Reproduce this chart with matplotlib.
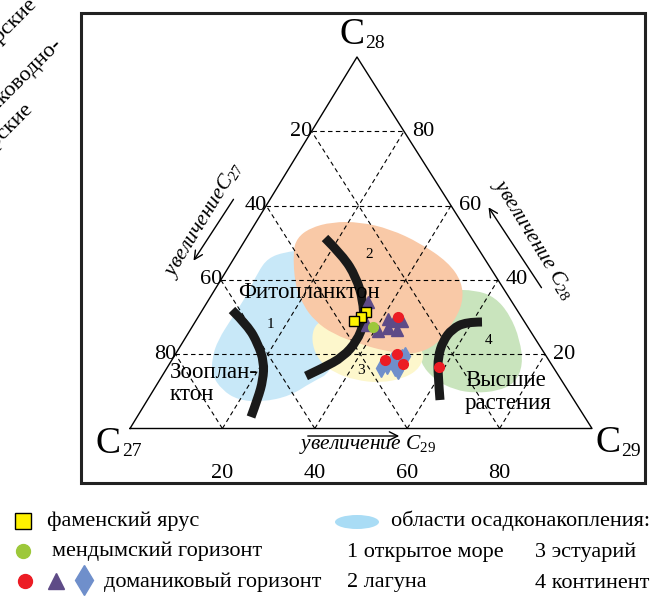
import matplotlib

matplotlib.use("Agg")
import matplotlib.pyplot as plt
from matplotlib.patches import Ellipse, PathPatch, Rectangle
from matplotlib.path import Path

plt.rcParams["font.family"] = ["Liberation Serif", "DejaVu Serif"]
plt.rcParams["mathtext.fontset"] = "custom"
plt.rcParams["mathtext.it"] = "Liberation Serif:italic"
plt.rcParams["mathtext.rm"] = "Liberation Serif"

# sterane compositions, % (C27, C28, C29)
FAMEN = [(32.9, 31.4, 35.7), (34.7, 30.0, 35.3), (36.8, 28.9, 34.3)]
MENDYM = [(33.5, 27.3, 39.2)]
DOMANIK_CIRCLES = [(26.7, 30.0, 43.3), (35.5, 18.4, 46.1), (32.0, 20.1, 47.9),
                   (32.0, 17.4, 50.6), (24.7, 16.6, 58.7)]
DOMANIK_TRIANGLES = [(31.1, 34.1, 34.8), (34.5, 27.9, 37.6), (29.1, 29.5, 41.4),
                     (28.2, 28.9, 42.9), (26.4, 28.9, 44.7), (33.0, 26.2, 40.8),
                     (30.3, 27.1, 42.6), (28.7, 26.5, 44.8)]
DOMANIK_DIAMONDS = [(37.4, 16.3, 46.3), (35.7, 17.1, 47.2), (34.0, 18.2, 47.8),
                    (34.2, 16.6, 49.2), (31.5, 19.0, 49.5), (30.6, 19.5, 49.9),
                    (34.0, 15.7, 50.3)]
GRID_STEPS = [20, 40, 60, 80]

# facies fields and source boundaries, in figure pixels
OPEN_SEA = [(212, 358), (218, 340), (232, 318), (247, 295), (258, 272), (268, 258),
            (285, 252), (305, 250), (320, 300), (335, 340), (332, 372), (312, 382),
            (290, 396), (262, 402), (238, 400), (222, 390), (212, 375)]
LAGOON = [(293, 252), (297, 238), (310, 228), (332, 222), (360, 222), (390, 229),
          (420, 243), (448, 262), (462, 282), (463, 303), (453, 323), (437, 345),
          (413, 355), (385, 351), (360, 344), (333, 334), (315, 321), (303, 305),
          (295, 285)]
ESTUARY = [(313, 328), (322, 320), (345, 322), (380, 330), (410, 340), (425, 352),
           (420, 368), (405, 378), (380, 383), (355, 380), (335, 373), (320, 362),
           (312, 345)]
CONTINENT = [(430, 300), (450, 290), (475, 290), (495, 297), (510, 315), (520, 340),
             (523, 365), (515, 383), (498, 391), (475, 393), (455, 390), (435, 380),
             (420, 363), (418, 340), (422, 318)]
ZOO_LINE = [(232, 310), (248, 326), (258, 344), (264, 362), (263, 380), (258, 398), (251, 417)]
PHYTO_LINE = [(325, 238), (343, 256), (356, 277), (363, 300), (364, 323), (357, 341),
              (343, 357), (323, 368), (306, 376)]
PLANT_LINE = [(482, 322), (466, 322), (452, 329), (443, 341), (438, 357), (438, 375), (440, 400)]

V27 = (130, 428.5)
V28 = (357, 57)
V29 = (592, 428.5)

BLACK = "#1a1a1a"
FS = 16


def tern(c27, c28, c29):
    s = c27 + c28 + c29
    x = (c27 * V27[0] + c28 * V28[0] + c29 * V29[0]) / s
    y = (c27 * V27[1] + c28 * V28[1] + c29 * V29[1]) / s
    return x, y


def xy(points):
    pts = [tern(*p) for p in points]
    return [p[0] for p in pts], [p[1] for p in pts]


def smooth(points, closed=False):
    n = len(points)
    mid = [((points[i][0] + points[(i + 1) % n][0]) / 2,
            (points[i][1] + points[(i + 1) % n][1]) / 2) for i in range(n)]
    if closed:
        verts = [mid[-1]]
        codes = [Path.MOVETO]
        for i in range(n):
            verts += [points[i], mid[i]]
            codes += [Path.CURVE3, Path.CURVE3]
    else:
        verts = [points[0]]
        codes = [Path.MOVETO]
        for i in range(1, n - 2):
            verts += [points[i], mid[i]]
            codes += [Path.CURVE3, Path.CURVE3]
        verts += [points[n - 2], points[n - 1]]
        codes += [Path.CURVE3, Path.CURVE3]
    return Path(verts, codes)


fig = plt.figure(figsize=(6.54, 6.0), dpi=100)
ax = fig.add_axes([0, 0, 1, 1])
ax.set_xlim(0, 654)
ax.set_ylim(600, 0)
ax.axis("off")

ax.add_patch(Rectangle((81, 13), 564, 470, fill=False, lw=2.2, edgecolor="#222222", zorder=1))

# depositional fields
for shape, color, z in [(OPEN_SEA, "#c8e8f8", 2), (CONTINENT, "#c9e4bd", 2),
                        (ESTUARY, "#fdf7cc", 2.1), (LAGOON, "#f9c9a7", 2.2)]:
    ax.add_patch(PathPatch(smooth(shape, closed=True), facecolor=color, edgecolor="none", zorder=z))

# triangle grid
dash = (0, (4, 3))
for k in GRID_STEPS:
    for a, b in [((100 - k, k, 0), (0, k, 100 - k)),
                 ((100 - k, 0, k), (0, 100 - k, k)),
                 ((k, 0, 100 - k), (k, 100 - k, 0))]:
        p, q = tern(*a), tern(*b)
        ax.plot([p[0], q[0]], [p[1], q[1]], color="black", lw=0.8, ls=dash, zorder=3)
ax.plot([V27[0], V28[0], V29[0], V27[0]], [V27[1], V28[1], V29[1], V27[1]],
        color="black", lw=1.0, zorder=3)

# source boundaries
for line in [ZOO_LINE, PHYTO_LINE, PLANT_LINE]:
    ax.add_patch(PathPatch(smooth(line), fill=False, lw=6.5, edgecolor=BLACK,
                           capstyle="butt", zorder=4))

# axis labels
for k in GRID_STEPS:
    x, y = tern(k, 100 - k, 0)
    ax.text(x + 1, y, str(k), ha="right", va="center", fontsize=FS, zorder=5)
    x, y = tern(0, k, 100 - k)
    ax.text(x + 8, y, str(k), ha="left", va="center", fontsize=FS, zorder=5)
    x, y = tern(100 - k, 0, k)
    ax.text(x, 474, str(k), ha="center", va="center", fontsize=FS, zorder=5)

ax.text(352, 35, "C", ha="center", va="center", fontsize=27)
ax.text(375, 43, "28", ha="center", va="center", fontsize=14)
ax.text(108, 444, "C", ha="center", va="center", fontsize=27)
ax.text(132, 451, "27", ha="center", va="center", fontsize=14)
ax.text(608, 443, "C", ha="center", va="center", fontsize=27)
ax.text(631, 452, "29", ha="center", va="center", fontsize=14)

ax.text(204, 220, "увеличение$C_{27}$", style="italic", fontsize=15.5, rotation=58.5,
        ha="center", va="center", rotation_mode="anchor")
ax.text(533, 240, "увеличение $C_{28}$", style="italic", fontsize=15.5, rotation=-58.5,
        ha="center", va="center", rotation_mode="anchor")
ax.text(368, 445, "увеличение $C_{29}$", style="italic", fontsize=15.5, ha="center", va="center")
arrow = dict(arrowstyle="->", lw=1.0, color="black", mutation_scale=15)
ax.annotate("", xy=(192, 263), xytext=(235, 197), arrowprops=arrow)
ax.annotate("", xy=(487, 205), xytext=(543, 290), arrowprops=arrow)
ax.annotate("", xy=(402, 436), xytext=(305, 436), arrowprops=arrow)

ax.text(309, 292, "Фитопланктон", ha="center", va="center", fontsize=16.5, zorder=5)
ax.text(170, 372, "Зоoплан-", ha="left", va="center", fontsize=16.5, zorder=5)
ax.text(170, 395, "ктон", ha="left", va="center", fontsize=16.5, zorder=5)
ax.text(465, 380, "Высшие", ha="left", va="center", fontsize=16.5, zorder=5)
ax.text(465, 404, "растения", ha="left", va="center", fontsize=16.5, zorder=5)
for label, (x, y) in [("1", (270, 325)), ("2", (369, 255)), ("3", (361, 371)), ("4", (489, 340))]:
    ax.text(x, y, label, ha="center", va="center", fontsize=11, zorder=5)

# neighbouring labels cut by the left edge
for word, (x, y) in [("морские", (37.5, 4.5)), ("мелководно-", (62.5, 44.5)), ("морские", (34, 110))]:
    ax.text(x, y, word, ha="right", va="baseline", fontsize=16, rotation=45,
            rotation_mode="anchor")

# samples
tx, ty = xy(DOMANIK_TRIANGLES)
ax.plot(tx, ty, ls="none", marker="^", ms=8, color="#5e4b87", zorder=6)
dx, dy = xy(DOMANIK_DIAMONDS)
ax.plot(dx, dy, ls="none", marker="d", ms=9, color="#6f8fcb", zorder=6)
sx, sy = xy(FAMEN)
ax.plot(sx, sy, ls="none", marker="s", ms=7.5, mfc="#fff200", mec="black", mew=1.0, zorder=7)
gx, gy = xy(MENDYM)
ax.plot(gx, gy, ls="none", marker="o", ms=7, color="#9dc83a", zorder=7)
rx, ry = xy(DOMANIK_CIRCLES)
ax.plot(rx, ry, ls="none", marker="o", ms=7, color="#ec1c24", zorder=8)

# legend
ax.plot([23], [521], marker="s", ms=12, mfc="#fff200", mec="black", mew=1.0)
ax.text(47, 521, "фаменский ярус", ha="left", va="center", fontsize=FS)
ax.plot([23], [551], marker="o", ms=10, color="#9dc83a")
ax.text(52, 551, "мендымский горизонт", ha="left", va="center", fontsize=FS)
ax.plot([25], [581], marker="o", ms=10, color="#ec1c24")
ax.plot([56], [581], marker="^", ms=11, color="#5e4b87")
ax.plot([84], [580], marker="d", ms=15, color="#6f8fcb")
ax.text(104, 582, "доманиковый горизонт", ha="left", va="center", fontsize=FS)
ax.add_patch(Ellipse((357, 522), 44, 14, facecolor="#a9dcf5", edgecolor="none"))
ax.text(391, 521, "области осадконакопления:", ha="left", va="center", fontsize=FS)
ax.text(347, 552, "1 открытое море", ha="left", va="center", fontsize=FS)
ax.text(535, 552, "3 эстуарий", ha="left", va="center", fontsize=FS)
ax.text(347, 583, "2 лагуна", ha="left", va="center", fontsize=FS)
ax.text(535, 583, "4 континент", ha="left", va="center", fontsize=FS)

fig.savefig("out.png", dpi=100)
